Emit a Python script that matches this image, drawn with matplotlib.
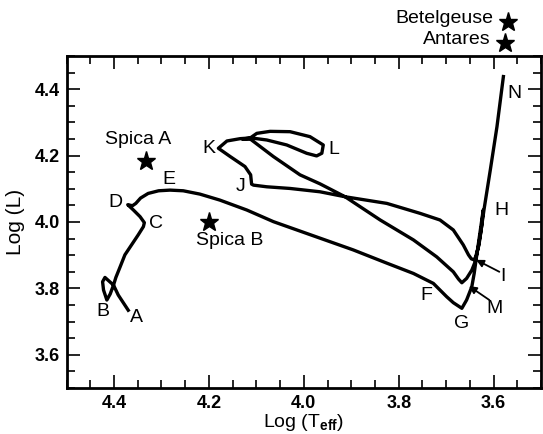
import matplotlib
matplotlib.use('Agg')
import matplotlib.pyplot as plt
from matplotlib.ticker import MultipleLocator

plt.rcParams['font.family'] = ['Liberation Sans', 'DejaVu Sans']
plt.rcParams['mathtext.fontset'] = 'custom'
plt.rcParams['mathtext.rm'] = 'Liberation Sans'
plt.rcParams['mathtext.bf'] = 'Liberation Sans:bold'

# evolutionary track, A -> N
log_teff = [4.368, 4.391, 4.401, 4.419, 4.424, 4.422, 4.415, 4.408, 4.401,
            4.396, 4.387, 4.377, 4.363, 4.349, 4.338, 4.336, 4.345, 4.359,
            4.371, 4.361, 4.354, 4.344, 4.328, 4.306, 4.282, 4.254, 4.219,
            4.177, 4.120, 4.064, 3.987, 3.896, 3.825, 3.769, 3.727, 3.699,
            3.685, 3.667, 3.657, 3.646, 3.641, 3.637, 3.630, 3.622, 3.625,
            3.631, 3.638, 3.641, 3.647, 3.653, 3.664, 3.685, 3.713, 3.755,
            3.825, 3.913, 3.966, 4.029, 4.078, 4.106, 4.110, 4.112, 4.124,
            4.155, 4.180, 4.162, 4.134, 4.113, 4.099, 4.071, 4.029, 3.987,
            3.959, 3.962, 3.973, 3.994, 4.036, 4.078, 4.110, 4.130, 4.112,
            4.064, 4.008, 3.966, 3.913, 3.839, 3.769, 3.720, 3.685, 3.674,
            3.667, 3.657, 3.646, 3.639, 3.633, 3.627, 3.620, 3.607, 3.593,
            3.579]
log_l = [3.730, 3.780, 3.810, 3.833, 3.820, 3.795, 3.765, 3.783, 3.810,
         3.833, 3.865, 3.901, 3.931, 3.961, 3.986, 3.998, 4.016, 4.036,
         4.052, 4.049, 4.056, 4.072, 4.086, 4.094, 4.096, 4.094, 4.084,
         4.066, 4.036, 4.001, 3.962, 3.916, 3.876, 3.845, 3.815, 3.775,
         3.757, 3.740, 3.765, 3.805, 3.845, 3.886, 3.956, 4.036, 3.990,
         3.930, 3.895, 3.886, 3.889, 3.901, 3.931, 3.976, 4.006, 4.026,
         4.056, 4.076, 4.091, 4.101, 4.106, 4.111, 4.114, 4.142, 4.167,
         4.197, 4.222, 4.244, 4.251, 4.253, 4.267, 4.273, 4.272, 4.257,
         4.232, 4.207, 4.199, 4.207, 4.232, 4.247, 4.253, 4.250, 4.249,
         4.197, 4.142, 4.115, 4.076, 4.006, 3.946, 3.895, 3.850, 3.828,
         3.817, 3.830, 3.855, 3.880, 3.920, 3.970, 4.040, 4.157, 4.287,
         4.443]

# letters marking the phases
point_names = ['A', 'B', 'C', 'D', 'E', 'F', 'G', 'H', 'I', 'J', 'K', 'L', 'M', 'N']
point_teff = [4.352, 4.424, 4.312, 4.396, 4.285, 3.741, 3.667, 3.583, 3.581,
              4.134, 4.200, 3.936, 3.599, 3.557]
point_l = [3.713, 3.730, 3.996, 4.059, 4.127, 3.780, 3.695, 4.036, 3.837,
           4.106, 4.222, 4.219, 3.740, 4.388]

# arrows for I and M: (tail, head)
arrow_names = ['I', 'M']
arrow_tail = [(3.588, 3.850), (3.609, 3.765)]
arrow_head = [(3.637, 3.886), (3.652, 3.807)]

# observed stars
star_names = ['Spica A', 'Spica B', 'Betelgeuse', 'Antares']
star_teff = [4.332, 4.200, 3.569, 3.576]
star_l = [4.185, 4.000, 4.603, 4.538]
star_label_teff = [4.349, 4.157, 3.601, 3.607]
star_label_l = [4.247, 3.943, 4.614, 4.550]
star_label_ha = ['center', 'center', 'right', 'right']

fig = plt.figure(figsize=(5.43, 4.34), dpi=100)
ax = fig.add_axes([0.1225, 0.106, 0.874, 0.765])

ax.plot(log_teff, log_l, color='black', lw=2.4, solid_joinstyle='round',
        solid_capstyle='butt')

for name, x, y in zip(point_names, point_teff, point_l):
    ax.text(x, y, name, fontsize=14, ha='center', va='center')

for name, t, h in zip(arrow_names, arrow_tail, arrow_head):
    ax.annotate('', xy=h, xytext=t,
                arrowprops=dict(arrowstyle='-|>', color='black', lw=1.3,
                                mutation_scale=11, shrinkA=0, shrinkB=0))

for i, name in enumerate(star_names):
    ax.plot(star_teff[i], star_l[i], marker='*', ms=14, color='black',
            clip_on=False, zorder=5)
    ax.text(star_label_teff[i], star_label_l[i], name, fontsize=14,
            ha=star_label_ha[i], va='center', clip_on=False)

ax.set_xlim(4.5, 3.5)
ax.set_ylim(3.5, 4.5)
ax.xaxis.set_minor_locator(MultipleLocator(0.05))
ax.yaxis.set_minor_locator(MultipleLocator(0.05))
ax.set_xticks([4.4, 4.2, 4.0, 3.8, 3.6])
ax.set_xticklabels(['4.4', '4.2', '4.0', '3.8', '3.6'])
ax.set_yticks([3.6, 3.8, 4.0, 4.2, 4.4])
ax.set_yticklabels(['3.6', '3.8', '4.0', '4.2', '4.4'])

ax.tick_params(which='both', direction='in', top=True, right=True, width=1.2)
ax.tick_params(which='major', length=9.5, labelsize=13, pad=5)
ax.tick_params(which='minor', length=5.5)
for lab in ax.get_xticklabels() + ax.get_yticklabels():
    lab.set_fontweight('bold')
for sp in ax.spines.values():
    sp.set_linewidth(2)

ax.set_xlabel('Log (T$_{\\mathbf{eff}}$)', fontsize=14, labelpad=0)
ax.set_ylabel('Log (L)', fontsize=15, labelpad=7)

fig.savefig('out.png', dpi=100)
